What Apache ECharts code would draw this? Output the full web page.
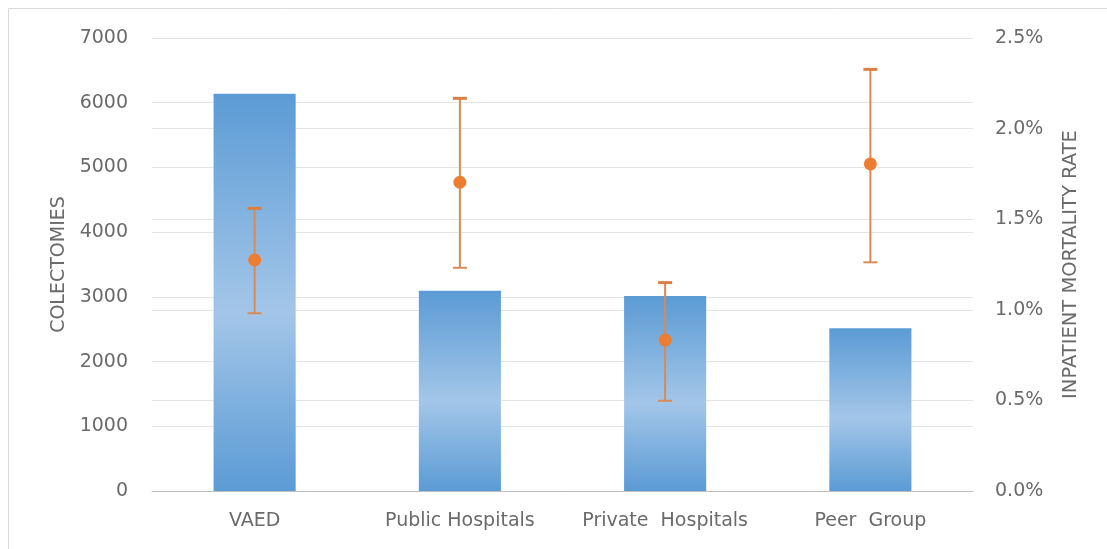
<!DOCTYPE html>
<html>
<head>
<meta charset="utf-8">
<script src="https://cdn.jsdelivr.net/npm/echarts@6/dist/echarts.min.js"></script>
<style>
html,body{margin:0;padding:0;background:#fff;}
#chart{width:1107px;height:549px;}
</style>
</head>
<body>
<div id="chart"></div>
<script>
const categories = ['VAED', 'Public Hospitals', 'Private  Hospitals', 'Peer  Group'];
const colectomies = [6140, 3095, 3015, 2515];
const mortalityRate = [1.275, 1.704, 0.833, 1.805];
const mortalityLow = [0.981, 1.232, 0.498, 1.262];
const mortalityHigh = [1.560, 2.167, 1.150, 2.327];
const leftTicks = { min: 0, max: 7000, interval: 1000 };
const rightTicks = { min: 0, max: 2.5, interval: 0.5 };

const chart = echarts.init(document.getElementById('chart'));
const font = '"DejaVu Sans", sans-serif';
const labelColor = '#6a6a6a';
const gridColor = '#e4e4e4';

chart.setOption({
  animation: false,
  backgroundColor: '#fff',
  graphic: [
    { type: 'line', shape: { x1: 8.5, y1: 8.5, x2: 1107, y2: 8.5 }, style: { stroke: '#d9d9d9', lineWidth: 1 } },
    { type: 'line', shape: { x1: 8.5, y1: 8.5, x2: 8.5, y2: 549 }, style: { stroke: '#d9d9d9', lineWidth: 1 } }
  ],
  grid: { left: 152, right: 134, top: 38, bottom: 58 },
  xAxis: {
    type: 'category',
    data: categories,
    axisTick: { show: false },
    axisLine: { lineStyle: { color: '#bfbfbf', width: 1 } },
    axisLabel: { color: labelColor, fontFamily: font, fontSize: 19, margin: 21, interval: 0, hideOverlap: false }
  },
  yAxis: [
    {
      type: 'value', min: leftTicks.min, max: leftTicks.max, interval: leftTicks.interval,
      name: 'COLECTOMIES', nameLocation: 'middle', nameGap: 82, nameRotate: 90,
      nameTextStyle: { color: labelColor, fontFamily: font, fontSize: 19 },
      axisLine: { show: false }, axisTick: { show: false },
      axisLabel: { color: labelColor, fontFamily: font, fontSize: 19, margin: 24,
        formatter: v => String(v) },
      splitLine: { lineStyle: { color: gridColor, width: 1 } }
    },
    {
      type: 'value', min: rightTicks.min, max: rightTicks.max, interval: rightTicks.interval,
      name: 'INPATIENT MORTALITY RATE', nameLocation: 'middle', nameGap: 88, nameRotate: 90,
      nameTextStyle: { color: labelColor, fontFamily: font, fontSize: 19.5 },
      axisLine: { show: false }, axisTick: { show: false },
      axisLabel: { color: labelColor, fontFamily: font, fontSize: 19, margin: 22,
        formatter: v => v.toFixed(1) + '%' },
      splitLine: { show: true, lineStyle: { color: gridColor, width: 1 } }
    }
  ],
  series: [
    {
      type: 'bar', data: colectomies, yAxisIndex: 0, barWidth: '40%',
      itemStyle: {
        color: new echarts.graphic.LinearGradient(0, 0, 0, 1, [
          { offset: 0, color: '#5b9bd5' },
          { offset: 0.55, color: '#a3c6e8' },
          { offset: 1, color: '#5b9bd5' }
        ])
      }
    },
    {
      type: 'custom', yAxisIndex: 1,
      data: categories.map((c, i) => [i, mortalityLow[i], mortalityHigh[i]]),
      renderItem: function (params, api) {
        const x = api.value(0);
        const lo = api.coord([x, api.value(1)]);
        const hi = api.coord([x, api.value(2)]);
        const hw = 7;
        const style = { stroke: '#d98a55', lineWidth: 2 };
        return {
          type: 'group',
          children: [
            { type: 'line', shape: { x1: lo[0], y1: lo[1], x2: hi[0], y2: hi[1] }, style: style },
            { type: 'line', shape: { x1: hi[0] - hw, y1: hi[1], x2: hi[0] + hw, y2: hi[1] }, style: { stroke: '#dc7f40', lineWidth: 3 } },
            { type: 'line', shape: { x1: lo[0] - hw, y1: lo[1], x2: lo[0] + hw, y2: lo[1] }, style: style }
          ]
        };
      },
      z: 3
    },
    {
      type: 'scatter', yAxisIndex: 1, data: mortalityRate,
      symbol: 'circle', symbolSize: 13,
      itemStyle: { color: '#ed7d31', opacity: 1 },
      z: 4
    }
  ]
});
</script>
</body>
</html>
